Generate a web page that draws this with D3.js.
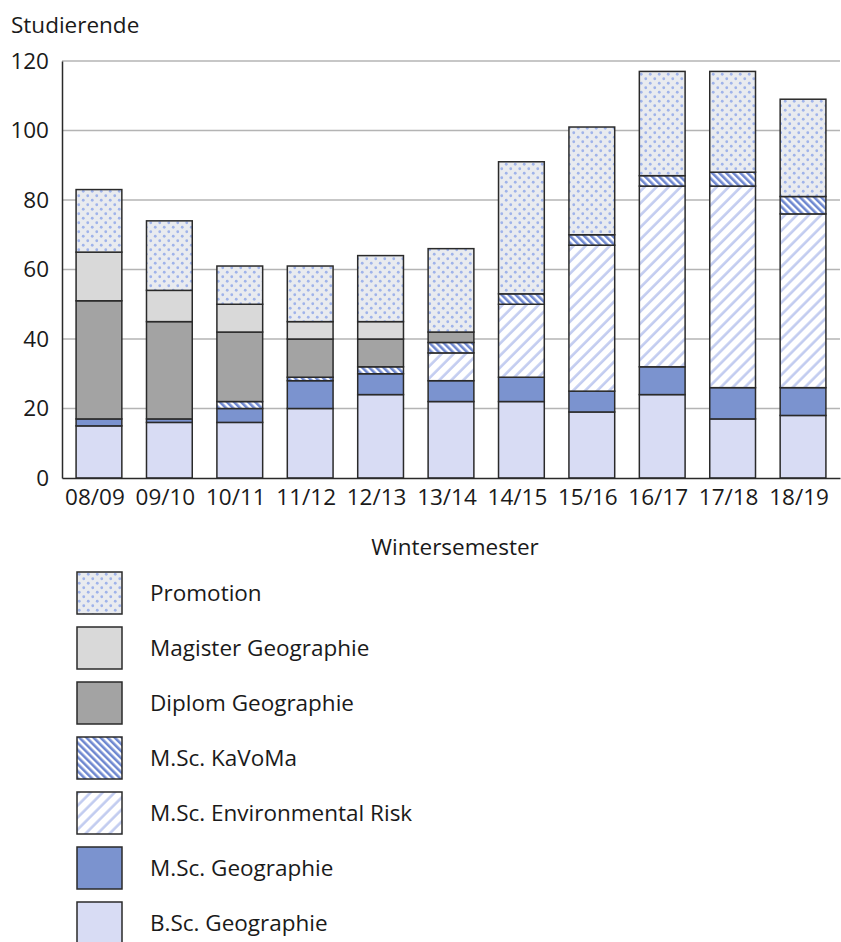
<!DOCTYPE html>
<html>
<head>
<meta charset="utf-8">
<script src="https://cdn.jsdelivr.net/npm/d3@7"></script>
<style>
  body { margin: 0; background: #fff; }
  text { font-family: "Open Sans", "Noto Sans", sans-serif; fill: #1a1a1a; }
</style>
</head>
<body>
<div id="chart"></div>
<script>
// data
var semesters = ["08/09", "09/10", "10/11", "11/12", "12/13", "13/14", "14/15", "15/16", "16/17", "17/18", "18/19"];
var bscGeo   = [15, 16, 16, 20, 24, 22, 22, 19, 24, 17, 18];
var mscGeo   = [2, 1, 4, 8, 6, 6, 7, 6, 8, 9, 8];
var mscRisk  = [0, 0, 0, 0, 0, 8, 21, 42, 52, 58, 50];
var mscKavoma = [0, 0, 2, 1, 2, 3, 3, 3, 3, 4, 5];
var diplom   = [34, 28, 20, 11, 8, 3, 0, 0, 0, 0, 0];
var magister = [14, 9, 8, 5, 5, 0, 0, 0, 0, 0, 0];
var promotion = [18, 20, 11, 16, 19, 24, 38, 31, 30, 29, 28];
var yTicks = [0, 20, 40, 60, 80, 100, 120];

// series in stacking order (bottom to top)
var series = [
  {key: "bsc", name: "B.Sc. Geographie", values: bscGeo, fill: "#d8dcf4"},
  {key: "msc", name: "M.Sc. Geographie", values: mscGeo, fill: "#7b93cf"},
  {key: "risk", name: "M.Sc. Environmental Risk", values: mscRisk, fill: "url(#pat-risk)"},
  {key: "kavoma", name: "M.Sc. KaVoMa", values: mscKavoma, fill: "url(#pat-kavoma)"},
  {key: "diplom", name: "Diplom Geographie", values: diplom, fill: "#a3a3a3"},
  {key: "magister", name: "Magister Geographie", values: magister, fill: "#d9d9d9"},
  {key: "promo", name: "Promotion", values: promotion, fill: "url(#pat-dots)"}
];

var width = 841, height = 942;
var plot = {left: 62, right: 840, top: 61, bottom: 478};
var fontSize = 22.5;

var svg = d3.select("#chart")
  .append("svg")
  .attr("width", width)
  .attr("height", height);

// patterns
var defs = svg.append("defs");

var dots = defs.append("pattern")
  .attr("id", "pat-dots")
  .attr("patternUnits", "userSpaceOnUse")
  .attr("width", 9).attr("height", 9);
dots.append("rect").attr("width", 9).attr("height", 9).attr("fill", "#e9ebef");
dots.append("circle").attr("cx", 2.25).attr("cy", 2.25).attr("r", 1.4).attr("fill", "#9fb3ea");
dots.append("circle").attr("cx", 6.75).attr("cy", 6.75).attr("r", 1.4).attr("fill", "#9fb3ea");

var risk = defs.append("pattern")
  .attr("id", "pat-risk")
  .attr("patternUnits", "userSpaceOnUse")
  .attr("width", 8.5).attr("height", 8.5)
  .attr("patternTransform", "rotate(45)");
risk.append("rect").attr("width", 8.5).attr("height", 8.5).attr("fill", "#fff");
risk.append("line").attr("x1", 1.5).attr("y1", 0).attr("x2", 1.5).attr("y2", 8.5)
  .attr("stroke", "#c2ccf0").attr("stroke-width", 2.6);

var kav = defs.append("pattern")
  .attr("id", "pat-kavoma")
  .attr("patternUnits", "userSpaceOnUse")
  .attr("width", 5).attr("height", 5)
  .attr("patternTransform", "rotate(-45)");
kav.append("rect").attr("width", 5).attr("height", 5).attr("fill", "#fff");
kav.append("line").attr("x1", 1.3).attr("y1", 0).attr("x2", 1.3).attr("y2", 5)
  .attr("stroke", "#6f88d0").attr("stroke-width", 2.6);

// scales
var x = d3.scaleBand()
  .domain(semesters)
  .range([plot.left, plot.right])
  .paddingInner(0.35)
  .paddingOuter(0.2);

var y = d3.scaleLinear()
  .domain([0, 120])
  .range([plot.bottom, plot.top]);

// gridlines
svg.append("g")
  .selectAll("line")
  .data(yTicks.filter(function(d) { return d > 0; }))
  .enter()
  .append("line")
    .attr("x1", plot.left).attr("x2", plot.right)
    .attr("y1", function(d) { return y(d); })
    .attr("y2", function(d) { return y(d); })
    .attr("stroke", "#b4b4b4")
    .attr("stroke-width", 1.5);

// stack the series
var table = semesters.map(function(s, i) {
  var row = {semester: s};
  series.forEach(function(ser) { row[ser.key] = ser.values[i]; });
  return row;
});
var stacked = d3.stack().keys(series.map(function(s) { return s.key; }))(table);

var layers = svg.append("g")
  .selectAll("g")
  .data(stacked)
  .enter()
  .append("g")
    .attr("fill", function(d, i) { return series[i].fill; });

layers.selectAll("rect")
  .data(function(d) { return d.filter(function(p) { return p[1] - p[0] > 0; }); })
  .enter()
  .append("rect")
    .attr("x", function(d) { return x(d.data.semester); })
    .attr("width", x.bandwidth())
    .attr("y", function(d) { return y(d[1]); })
    .attr("height", function(d) { return y(d[0]) - y(d[1]); })
    .attr("stroke", "#2a2a2a")
    .attr("stroke-width", 1.5);

// axes
var yAxis = svg.append("g")
  .attr("transform", "translate(" + plot.left + ",0)")
  .call(d3.axisLeft(y).tickValues(yTicks).tickSize(0).tickPadding(13));
yAxis.select(".domain").attr("stroke", "#2a2a2a").attr("stroke-width", 1.5);
yAxis.selectAll("text").attr("font-size", fontSize).style("font-family", "'Open Sans', sans-serif").attr("fill", "#1a1a1a");

var xAxis = svg.append("g")
  .attr("transform", "translate(0," + plot.bottom + ")")
  .call(d3.axisBottom(x).tickSize(0).tickPadding(11));
xAxis.select(".domain").attr("stroke", "#2a2a2a").attr("stroke-width", 1.5);
xAxis.selectAll("text")
  .attr("dx", -4)
  .attr("font-size", fontSize).style("font-family", "'Open Sans', sans-serif").attr("fill", "#1a1a1a");

// axis titles
svg.append("text")
  .attr("x", 11).attr("y", 33)
  .attr("font-size", fontSize)
  .text("Studierende");

svg.append("text")
  .attr("x", (plot.left + plot.right) / 2 + 4).attr("y", 555)
  .attr("text-anchor", "middle")
  .attr("font-size", fontSize)
  .text("Wintersemester");

// legend (top to bottom: reverse of stacking order)
var legendItems = series.slice().reverse();
var legend = svg.append("g")
  .selectAll("g")
  .data(legendItems)
  .enter()
  .append("g")
    .attr("transform", function(d, i) { return "translate(77," + (572 + i * 55) + ")"; });

legend.append("rect")
  .attr("width", 45).attr("height", 42)
  .attr("fill", function(d) { return d.fill; })
  .attr("stroke", "#2a2a2a")
  .attr("stroke-width", 1.5);

legend.append("text")
  .attr("x", 73).attr("y", 21)
  .attr("dy", "0.35em")
  .attr("font-size", fontSize)
  .text(function(d) { return d.name; });
</script>
</body>
</html>
